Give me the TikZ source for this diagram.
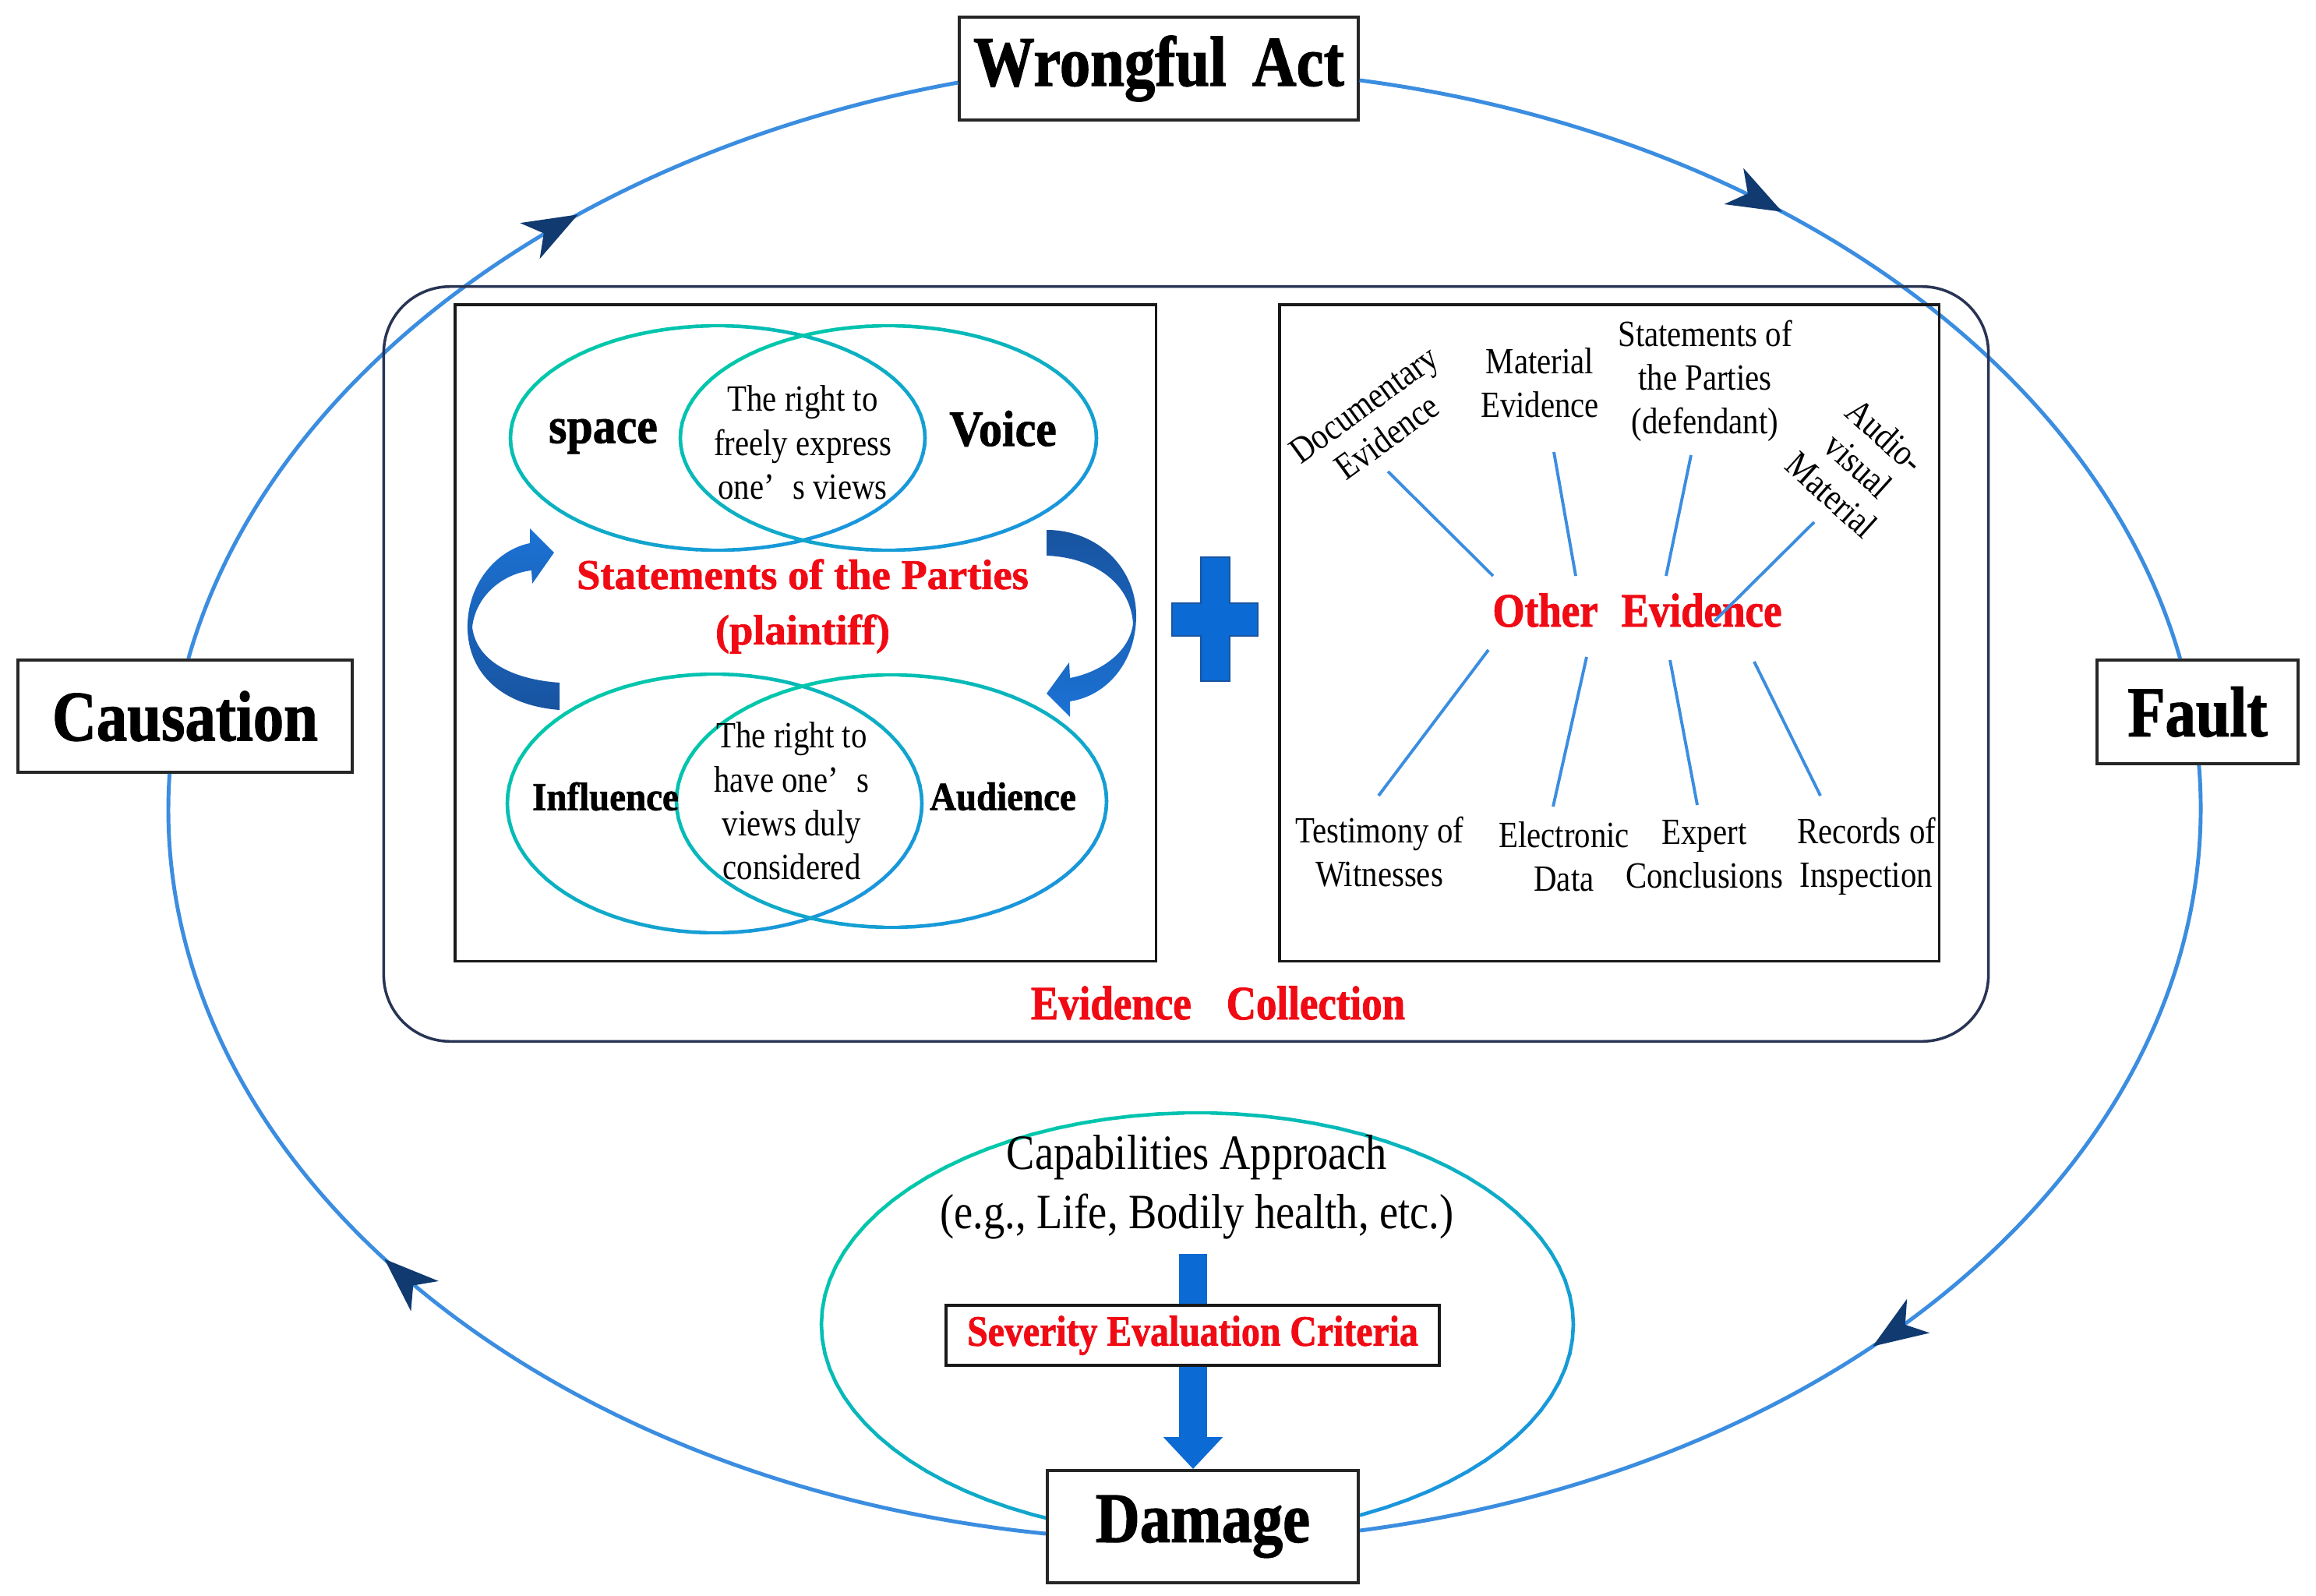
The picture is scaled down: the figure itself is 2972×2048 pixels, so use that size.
\documentclass[tikz,border=0pt]{standalone}
\usepackage{fontspec}
\setmainfont{Liberation Serif}
\newfontfamily\cA[FakeStretch=0.86, BoldFeatures={FakeBold=1.3}]{Liberation Serif}
\newfontfamily\cB[FakeStretch=0.92, BoldFeatures={FakeBold=1.3}]{Liberation Serif}
\newfontfamily\cC[BoldFeatures={FakeBold=1.2}]{Liberation Serif}
\usetikzlibrary{arrows.meta,decorations.markings}
\definecolor{loopblue}{RGB}{59,141,224}
\definecolor{navy}{RGB}{16,58,112}
\definecolor{framec}{RGB}{40,52,84}
\definecolor{vteal}{RGB}{0,200,170}
\definecolor{vblue}{RGB}{25,150,220}
\definecolor{redt}{RGB}{240,10,20}
\definecolor{arrowblue}{RGB}{12,106,212}
\definecolor{darkarrow}{RGB}{24,84,160}
\definecolor{brightarrow}{RGB}{28,114,212}
\tikzset{
  titlebox/.style={draw=black!85, line width=1.1pt, fill=white, inner sep=0pt,
    font=\cA\bfseries\fontsize{26}{30}\selectfont},
  ringline/.style={draw=loopblue, line width=1.4pt},
  ringmark/.style={postaction={decorate}, decoration={markings,
    mark=at position #1 with {\arrow{Stealth[length=0.7cm,width=0.52cm,inset=0.2cm,color=navy]}}}},
  venn/.style={line width=1.3pt, line cap=round},
  smalltxt/.style={align=center, inner sep=0pt, font=\cA\fontsize{13.5}{16}\selectfont},
  tighttxt/.style={align=center, inner sep=0pt, font=\cA\fontsize{13.5}{14.6}\selectfont},
  bigword/.style={inner sep=0pt, font=\cB\bfseries\fontsize{18.5}{22}\selectfont},
  midword/.style={inner sep=0pt, font=\cB\bfseries\fontsize{14.5}{17}\selectfont},
  redbold/.style={inner sep=0pt, text=redt, font=\cA\bfseries\fontsize{17.5}{21}\selectfont},
  spoke/.style={draw=loopblue, line width=1.1pt},
  innerbox/.style={draw=black!90, line width=1pt, inner sep=0pt},
  fatarrow/.style={draw=arrowblue, line width=0.36cm}
}
\newcommand\gradell[4]{%
  \foreach \a in {0,4,...,356}{%
    \pgfmathtruncatemacro\vpct{50+50*cos(\a-225)}%
    \draw[venn, color=vteal!\vpct!vblue] ({#1+#3*cos(\a)},{#2+#4*sin(\a)}) -- ({#1+#3*cos(\a+4)},{#2+#4*sin(\a+4)});
  }}
\begin{document}
\begin{tikzpicture}[x=0.01cm, y=-0.01cm]
\useasboundingbox (0,0) rectangle (2972,2048);
\fill[white] (0,0) rectangle (2972,2048);

% capabilities ellipse (under Damage)
\gradell{1536.5}{1699.5}{482.5}{271.5}

% main boxes
\node[titlebox, minimum width=5.11cm, minimum height=1.32cm] (wa) at (1487,88) {Wrongful\hspace{0.33cm}Act};
\node[titlebox, minimum width=4.29cm, minimum height=1.44cm] (cau) at (237.5,919) {Causation};
\node[titlebox, minimum width=2.58cm, minimum height=1.33cm] (fault) at (2820,913.5) {Fault};
\node[titlebox, minimum width=3.99cm, minimum height=1.44cm] (dam) at (1543.5,1959) {Damage};

% outer cycle
\draw[ringline, ringmark=0.42] (wa.east |- 0,103) .. controls (2271.7,172) and (2690.3,468) .. (fault.north -| 2797.6,0);
\draw[ringline, ringmark=0.56] (fault.south -| 2821.8,0) .. controls (2860.5,1457.1) and (2396.2,1879.3) .. (dam.east |- 0,1964);
\draw[ringline, ringmark=0.57] (dam.west |- 0,1968) .. controls (674.9,1901.5) and (184.5,1476.6) .. (cau.south -| 217.6,0);
\draw[ringline, ringmark=0.60] (cau.north -| 241.8,0) .. controls (343.5,486.1) and (731,196) .. (wa.west |- 0,106);

% evidence collection frame and inner boxes
\node[draw=framec, line width=1pt, rounded corners=0.85cm, minimum width=20.58cm, minimum height=9.68cm, inner sep=0pt] (frame) at (1522,852) {};
\node[innerbox, minimum width=8.99cm, minimum height=8.42cm] (lbox) at (1033.5,812) {};
\node[innerbox, minimum width=8.46cm, minimum height=8.42cm] (rbox) at (2065,812) {};
\node[redbold] (evc) at (1563,1287) {Evidence\hspace{0.45cm}Collection};

% Venn diagrams
\gradell{921}{562}{266}{144}
\gradell{1140}{562}{267}{144}
\gradell{917}{1031}{266}{166}
\gradell{1144}{1028}{276}{162}

\node[bigword] (space) at (774,560) {space};
\node[bigword] (voice) at (1287,550) {Voice};
\node[smalltxt] (free) at (1030,568) {The right to\\freely express\\one’\enspace s views};
\node[align=center, inner sep=0pt, text=redt, font=\cC\bfseries\fontsize{15.5}{20.2}\selectfont] (stp) at (1030,778) {Statements of the Parties\\(plaintiff)};
\node[midword] (infl) at (777,1022) {Influence};
\node[midword] (aud) at (1287,1022) {Audience};
\node[smalltxt] (cons) at (1016,1028) {The right to\\have one’\enspace s\\views duly\\considered};

% curved arrows
\shade[top color=brightarrow, bottom color=darkarrow] (718,911) .. controls (640,905) and (598,860) .. (600,800) .. controls (602,745) and (640,705) .. (680,697) -- (680,678) -- (711,709) -- (683,749) -- (682,732) .. controls (645,736) and (610,765) .. (606,805) .. controls (612,850) and (660,872) .. (718,876) -- cycle;
\shade[top color=darkarrow, bottom color=brightarrow] (1343,680) .. controls (1410,680) and (1458,730) .. (1458,790) .. controls (1458,850) and (1420,893) .. (1373,900) -- (1373,920) -- (1343,890) -- (1372,850) -- (1373,870) .. controls (1415,862) and (1450,835) .. (1454,800) .. controls (1450,745) and (1400,715) .. (1343,713) -- cycle;

% plus sign
\fill[arrowblue, draw=darkarrow, line width=0.5pt] (1541,715) -- (1578,715) -- (1578,774) -- (1614,774) -- (1614,816) -- (1578,816) -- (1578,874) -- (1541,874) -- (1541,816) -- (1504,816) -- (1504,774) -- (1541,774) -- cycle;

% other evidence
\node[redbold] (oe) at (2101,783) {Other\hspace{0.3cm}Evidence};
\node[tighttxt, rotate=36] (doc) at (1765,540) {Documentary\\Evidence};
\node[smalltxt] (mat) at (1976,491) {Material\\Evidence};
\node[smalltxt] (sdef) at (2188,489) {Statements of\\the Parties\\(defendant)};
\node[tighttxt, rotate=-42] (av) at (2385,597) {Audio-\\visual\\Material};
\node[smalltxt] (tes) at (1770,1093) {Testimony of\\Witnesses};
\node[smalltxt] (ele) at (2007,1099) {Electronic\\Data};
\node[smalltxt] (exq) at (2187,1096) {Expert\\Conclusions};
\node[smalltxt] (rec) at (2395,1099) {Records of\\Inspection};

\coordinate (d1) at (1781,605); \coordinate (o1) at (1916,739);
\coordinate (d2) at (1994,580); \coordinate (o2) at (2022,739);
\coordinate (d3) at (2170,584); \coordinate (o3) at (2138,739);
\coordinate (d4) at (2328,670); \coordinate (o4) at (2200,797);
\coordinate (d5) at (1769,1021); \coordinate (o5) at (1910,834);
\coordinate (d6) at (1993,1035); \coordinate (o6) at (2036,843);
\coordinate (d7) at (2178,1033); \coordinate (o7) at (2143,847);
\coordinate (d8) at (2336,1021); \coordinate (o8) at (2251,849);
\foreach \i in {1,...,8}{\draw[spoke] (o\i) -- (d\i);}

% damage part
\node[font=\cA\fontsize{18}{21.6}\selectfont, align=center, inner sep=0pt] (cap) at (1536,1523) {Capabilities Approach\\(e.g., Life, Bodily health, etc.)};
\node[draw=black!90, line width=1.3pt, fill=white, minimum width=6.33cm, minimum height=0.77cm, inner sep=0pt, text=redt, font=\cA\bfseries\fontsize{15.8}{18}\selectfont] (sev) at (1530.5,1713.5) {Severity Evaluation Criteria};
\coordinate (capbot) at (1531,1609);
\draw[fatarrow] (capbot) -- (capbot |- sev.north);
\draw[fatarrow, -{Triangle[width=0.74cm,length=0.41cm]}] (capbot |- sev.south) -- (capbot |- dam.north);
\end{tikzpicture}
\end{document}
